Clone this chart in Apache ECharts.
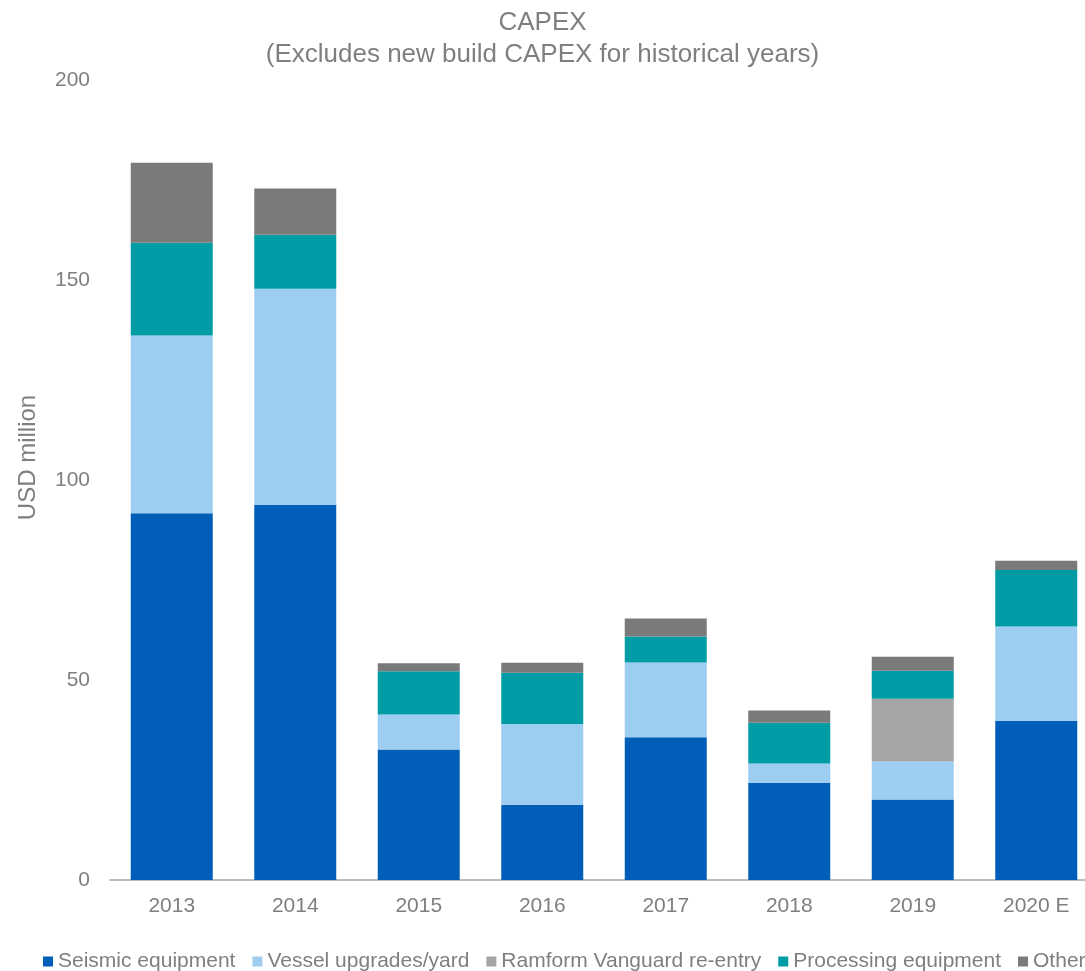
<!DOCTYPE html>
<html>
<head>
<meta charset="utf-8">
<script src="https://cdn.jsdelivr.net/npm/echarts@6/dist/echarts.min.js"></script>
<style>
html,body{margin:0;padding:0;background:#fff;}
#chart{width:1085px;height:971px;}
</style>
</head>
<body>
<div id="chart"></div>
<script>
var categories = ['2013', '2014', '2015', '2016', '2017', '2018', '2019', '2020 E'];
var seismic    = [91.7, 93.8, 32.6, 18.8, 35.7, 24.3, 20.1, 39.8];
var vessel     = [44.4, 54.0, 8.8, 20.2, 18.7, 4.8, 9.5, 23.6];
var ramform    = [0, 0, 0, 0, 0, 0, 15.7, 0];
var processing = [23.2, 13.5, 10.8, 12.8, 6.5, 10.2, 7.0, 14.1];
var other      = [20.0, 11.6, 2.0, 2.5, 4.5, 3.1, 3.5, 2.3];
var yTicks     = [0, 50, 100, 150, 200];

var seriesNames = ['Seismic equipment', 'Vessel upgrades/yard', 'Ramform Vanguard re-entry', 'Processing equipment', 'Other'];
var seriesData = [seismic, vessel, ramform, processing, other];
var colors = ['#005EB8', '#9DCEF2', '#A5A5A5', '#009CA6', '#7A7A7A'];

var font = 'Liberation Sans, Arial, sans-serif';
var txt = '#7f7f7f';

var chart = echarts.init(document.getElementById('chart'));
chart.setOption({
  animation: false,
  color: colors,
  title: {
    text: 'CAPEX\n(Excludes new build CAPEX for historical years)',
    left: 'center',
    top: 2,
    textStyle: { fontFamily: font, fontSize: 26, fontWeight: 'normal', color: txt, lineHeight: 32 }
  },
  legend: {
    left: 43,
    top: 951,
    width: 1200,
    padding: 0,
    icon: 'rect',
    itemWidth: 10,
    itemHeight: 10,
    itemGap: 17,
    textStyle: { fontFamily: font, fontSize: 21, color: txt },
    data: seriesNames
  },
  grid: { left: 110, top: 80, width: 988, bottom: 91, containLabel: false, outerBoundsMode: 'none' },
  xAxis: {
    type: 'category',
    data: categories,
    axisLine: { lineStyle: { color: '#a6a6a6', width: 1.5 } },
    axisTick: { show: false },
    axisLabel: { fontFamily: font, fontSize: 21, color: txt, margin: 16 }
  },
  yAxis: {
    type: 'value',
    min: yTicks[0],
    max: yTicks[yTicks.length - 1],
    interval: 50,
    name: 'USD million',
    nameLocation: 'middle',
    nameGap: 70,
    nameRotate: 90,
    nameTextStyle: { fontFamily: font, fontSize: 24, color: txt, padding: [0, 0, 0, 45] },
    axisLine: { show: false },
    axisTick: { show: false },
    splitLine: { show: false },
    axisLabel: { fontFamily: font, fontSize: 21, color: txt, margin: 20 }
  },
  series: seriesNames.map(function (n, i) {
    return {
      name: n,
      type: 'bar',
      stack: 'total',
      barWidth: 82,
      data: seriesData[i]
    };
  })
});
</script>
</body>
</html>
